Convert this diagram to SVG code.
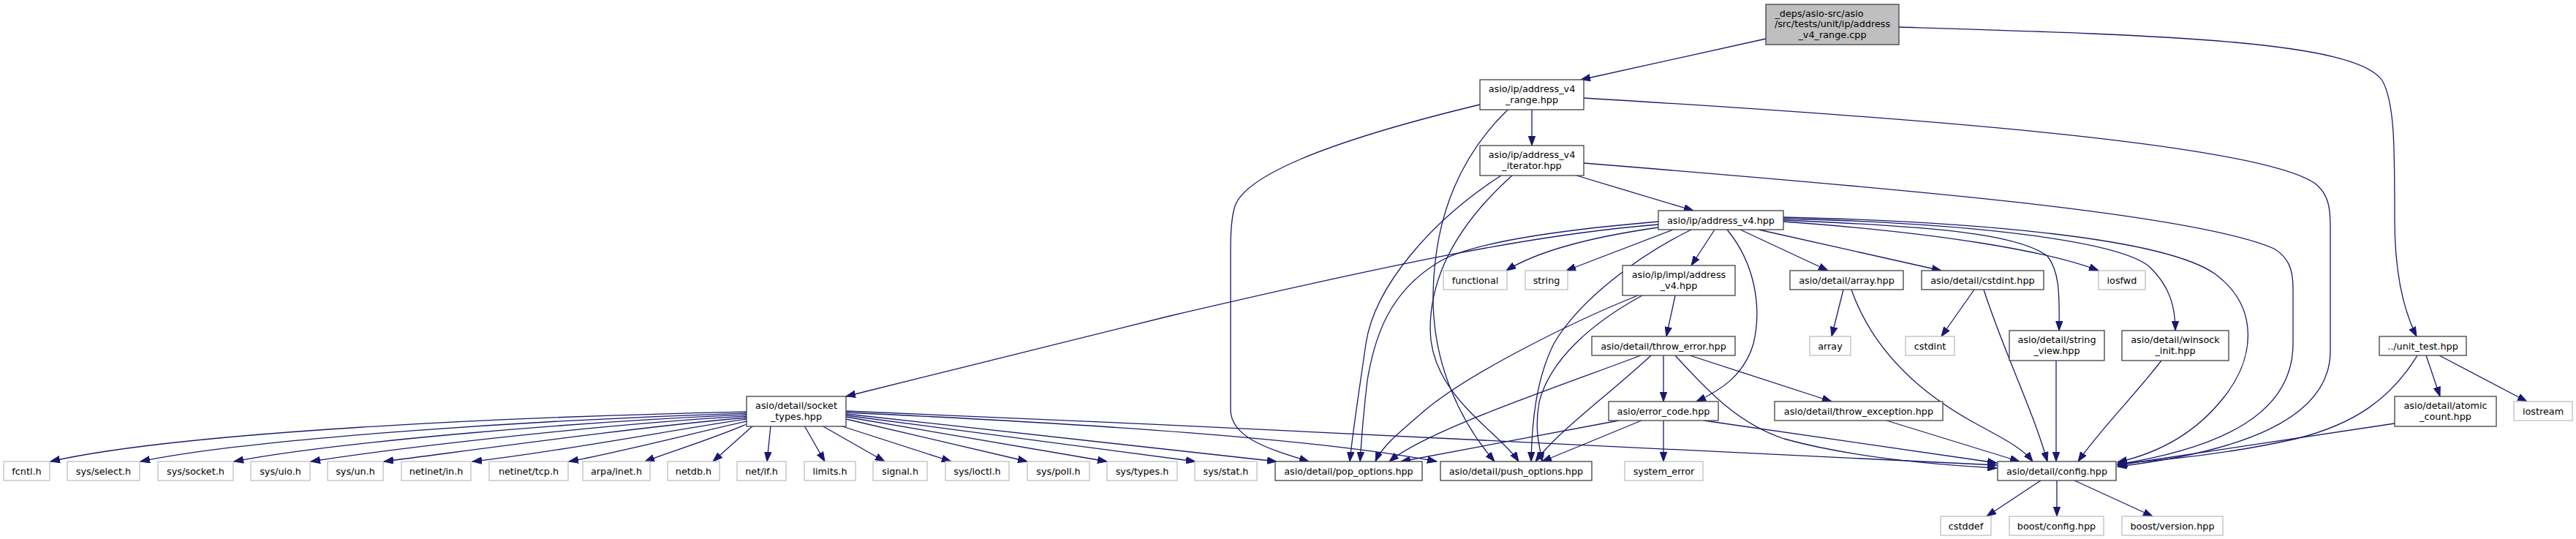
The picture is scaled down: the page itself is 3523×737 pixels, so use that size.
<svg xmlns="http://www.w3.org/2000/svg" width="3523" height="737" viewBox="0 0 3523 737">
<style>
.n rect{fill:#fff;stroke:#404040;stroke-width:1.3}
.x rect{fill:#fff;stroke:#bfbfbf;stroke-width:1.3}
.r rect{fill:#bfbfbf;stroke:#404040;stroke-width:1.3}
text{font-family:"DejaVu Sans","Liberation Sans",sans-serif;font-size:12.8px;fill:#000;text-anchor:middle}
.e path{fill:none;stroke:#191970;stroke-width:1.3;marker-end:url(#a)}
</style>
<defs>
<marker id="a" markerUnits="userSpaceOnUse" markerWidth="14" markerHeight="10" refX="13" refY="5" orient="auto" viewBox="0 0 14 10">
<path d="M0,0.3 L13,5 L0,9.7 Z" fill="#191970" stroke="#191970" stroke-width="1"/>
</marker>
</defs>
<rect width="3523" height="737" fill="#fff"/>
<g id="edges" class="e">
<path d="M2415,53 L2162,109"/>
<path d="M2597,37 C2950,48 3220,55 3258,110 C3275,140 3275,200 3275,300 C3275,380 3290,430 3305,460"/>
<path d="M2095,150 L2095,199"/>
<path d="M2166,134 C2600,160 3080,195 3165,250 C3185,265 3187,285 3187,310 L3187,480 C3187,575 3060,618 2896,638"/>
<path d="M2024,143 C1850,185 1700,235 1688,285 C1684,300 1683,320 1683,340 L1683,560 C1683,600 1740,615 1790,631"/>
<path d="M2062,150 C1995,215 1962,300 1960,400 C1958,500 2000,580 2044,631"/>
<path d="M2166,223 C2600,258 3000,292 3110,340 C3130,352 3136,368 3136,395 L3136,470 C3136,565 3040,612 2896,635"/>
<path d="M2156,240 L2316,288"/>
<path d="M2053,240 C1960,300 1880,390 1868,470 C1858,540 1850,590 1846,631"/>
<path d="M2068,240 C1990,310 1956,380 1956,450 C1956,540 2050,590 2077,631"/>
<path d="M2439,297 C2700,303 2960,325 3030,375 C3090,420 3085,490 3040,545 C3000,595 2950,620 2896,632"/>
<path d="M2268,311 C2170,325 2100,345 2060,370"/>
<path d="M2288,314 L2142,370"/>
<path d="M2345,314 L2313,363"/>
<path d="M2362,314 C2400,360 2410,420 2398,470 C2385,515 2350,535 2320,549"/>
<path d="M2380,314 L2500,370"/>
<path d="M2405,314 L2655,370"/>
<path d="M2439,303 C2650,318 2800,343 2870,370"/>
<path d="M2439,301 C2650,310 2760,320 2800,350 C2816,370 2817,400 2816,452"/>
<path d="M2439,299 C2700,305 2900,330 2940,365 C2968,392 2975,420 2975,452"/>
<path d="M2268,307 C2100,320 1900,362 1600,432 L1157,542"/>
<path d="M2268,303 C2150,313 2010,330 1965,360 C1900,400 1880,460 1870,520 C1864,570 1862,600 1860,631"/>
<path d="M2313,314 C2240,350 2160,410 2125,470 C2100,520 2095,580 2094,631"/>
<path d="M2291,404 L2279,460"/>
<path d="M2240,404 C2150,440 2010,510 1950,560 C1915,590 1890,610 1881,631"/>
<path d="M2246,404 C2180,440 2120,490 2105,550 C2098,590 2106,610 2109,631"/>
<path d="M2275,486 L2275,549"/>
<path d="M2311,486 L2505,549"/>
<path d="M2291,486 C2340,540 2380,580 2440,600 C2530,625 2640,635 2731,640"/>
<path d="M2244,486 C2100,540 1950,590 1900,631"/>
<path d="M2258,486 C2200,540 2130,590 2100,631"/>
<path d="M2214,575 L1916,631"/>
<path d="M2245,575 L2109,631"/>
<path d="M2275,575 L2275,631"/>
<path d="M2330,575 L2731,633"/>
<path d="M2580,575 L2762,631"/>
<path d="M2521,396 L2505,460"/>
<path d="M2532,396 C2565,490 2640,545 2700,578 C2740,600 2765,612 2780,631"/>
<path d="M2700,396 L2655,460"/>
<path d="M2713,396 C2740,480 2780,560 2800,631"/>
<path d="M2812,493 L2812,631"/>
<path d="M2956,493 C2920,540 2870,590 2842,631"/>
<path d="M3318,486 L3337,542"/>
<path d="M3336,486 L3456,549"/>
<path d="M3306,486 C3270,545 3220,580 3140,600 C3060,618 2980,628 2896,634"/>
<path d="M3275,579 L2896,636"/>
<path d="M2791,657 L2717,706"/>
<path d="M2813,657 L2813,706"/>
<path d="M2837,657 L2944,706"/>
<path d="M1021,563 C700,570 250,590 69,631"/>
<path d="M1021,565 C760,573 350,598 192,631"/>
<path d="M1021,567 C800,576 460,604 320,631"/>
<path d="M1021,569 C840,579 560,610 425,631"/>
<path d="M1021,571 C880,583 650,615 525,631"/>
<path d="M1021,573 C920,588 750,620 646,631"/>
<path d="M1021,576 C950,592 840,620 778,631"/>
<path d="M1021,580 C975,600 910,620 882,631"/>
<path d="M1030,582 L975,631"/>
<path d="M1054,582 L1049,631"/>
<path d="M1100,582 L1128,631"/>
<path d="M1124,582 L1210,631"/>
<path d="M1149,582 L1301,631"/>
<path d="M1157,573 L1405,631"/>
<path d="M1157,570 L1514,631"/>
<path d="M1157,568 L1635,631"/>
<path d="M1157,566 L1746,631"/>
<path d="M1157,564 C1500,580 1800,600 1965,631"/>
<path d="M1157,562 C1700,585 2300,612 2731,636"/>
</g>
<g id="root" class="r"><rect x="2415" y="6" width="182" height="55"/><text x="2488" y="22.5">_deps/asio-src/asio</text><text x="2506" y="37.2">/src/tests/unit/ip/address</text><text x="2506" y="51.9">_v4_range.cpp</text></g>
<g id="range" class="n"><rect x="2024" y="109" width="142" height="41"/><text x="2095" y="126">asio/ip/address_v4</text><text x="2095" y="140.7">_range.hpp</text></g>
<g id="iterator" class="n"><rect x="2024" y="199" width="142" height="41"/><text x="2095" y="216">asio/ip/address_v4</text><text x="2095" y="230.7">_iterator.hpp</text></g>
<g id="addr" class="n"><rect x="2268" y="288" width="171" height="26"/><text x="2353.5" y="305.5">asio/ip/address_v4.hpp</text></g>
<g id="functional" class="x"><rect x="1974" y="370" width="87" height="26"/><text x="2017.5" y="387.5">functional</text></g>
<g id="string" class="x"><rect x="2086" y="370" width="58" height="26"/><text x="2115" y="387.5">string</text></g>
<g id="impl" class="n"><rect x="2219" y="363" width="154" height="41"/><text x="2296" y="380">asio/ip/impl/address</text><text x="2296" y="394.7">_v4.hpp</text></g>
<g id="arrayhpp" class="n"><rect x="2448" y="370" width="155" height="26"/><text x="2525.5" y="387.5">asio/detail/array.hpp</text></g>
<g id="cstdinthpp" class="n"><rect x="2628" y="370" width="167" height="26"/><text x="2711.5" y="387.5">asio/detail/cstdint.hpp</text></g>
<g id="iosfwd" class="x"><rect x="2870" y="370" width="64" height="26"/><text x="2902" y="387.5">iosfwd</text></g>
<g id="throwerror" class="n"><rect x="2177" y="460" width="196" height="26"/><text x="2275" y="477.5">asio/detail/throw_error.hpp</text></g>
<g id="array" class="x"><rect x="2475" y="460" width="56" height="26"/><text x="2503" y="477.5">array</text></g>
<g id="cstdint" class="x"><rect x="2606" y="460" width="67" height="26"/><text x="2639.5" y="477.5">cstdint</text></g>
<g id="stringview" class="n"><rect x="2748" y="452" width="130" height="41"/><text x="2813" y="469">asio/detail/string</text><text x="2813" y="483.7">_view.hpp</text></g>
<g id="winsock" class="n"><rect x="2902" y="452" width="146" height="41"/><text x="2975" y="469">asio/detail/winsock</text><text x="2975" y="483.7">_init.hpp</text></g>
<g id="unittest" class="n"><rect x="3254" y="460" width="119" height="26"/><text x="3313.5" y="477.5">../unit_test.hpp</text></g>
<g id="sockettypes" class="n"><rect x="1021" y="542" width="136" height="41"/><text x="1089" y="559">asio/detail/socket</text><text x="1089" y="573.7">_types.hpp</text></g>
<g id="errorcode" class="n"><rect x="2200" y="549" width="150" height="26"/><text x="2275" y="566.5">asio/error_code.hpp</text></g>
<g id="throwexception" class="n"><rect x="2427" y="549" width="230" height="26"/><text x="2542" y="566.5">asio/detail/throw_exception.hpp</text></g>
<g id="atomiccount" class="n"><rect x="3275" y="542" width="139" height="41"/><text x="3344.5" y="559">asio/detail/atomic</text><text x="3344.5" y="573.7">_count.hpp</text></g>
<g id="iostream" class="x"><rect x="3438" y="549" width="80" height="26"/><text x="3478" y="566.5">iostream</text></g>
<g id="fcntl" class="x"><rect x="5" y="631" width="63" height="26"/><text x="36.5" y="648.5">fcntl.h</text></g>
<g id="sysselect" class="x"><rect x="92" y="631" width="99" height="26"/><text x="141.5" y="648.5">sys/select.h</text></g>
<g id="syssocket" class="x"><rect x="216" y="631" width="103" height="26"/><text x="267.5" y="648.5">sys/socket.h</text></g>
<g id="sysuio" class="x"><rect x="343" y="631" width="81" height="26"/><text x="383.5" y="648.5">sys/uio.h</text></g>
<g id="sysun" class="x"><rect x="448" y="631" width="76" height="26"/><text x="486" y="648.5">sys/un.h</text></g>
<g id="netinetin" class="x"><rect x="549" y="631" width="95" height="26"/><text x="596.5" y="648.5">netinet/in.h</text></g>
<g id="netinettcp" class="x"><rect x="669" y="631" width="108" height="26"/><text x="723" y="648.5">netinet/tcp.h</text></g>
<g id="arpainet" class="x"><rect x="797" y="631" width="92" height="26"/><text x="843" y="648.5">arpa/inet.h</text></g>
<g id="netdb" class="x"><rect x="913" y="631" width="71" height="26"/><text x="948.5" y="648.5">netdb.h</text></g>
<g id="netif" class="x"><rect x="1008" y="631" width="67" height="26"/><text x="1041.5" y="648.5">net/if.h</text></g>
<g id="limits" class="x"><rect x="1100" y="631" width="70" height="26"/><text x="1135" y="648.5">limits.h</text></g>
<g id="signal" class="x"><rect x="1194" y="631" width="74" height="26"/><text x="1231" y="648.5">signal.h</text></g>
<g id="sysioctl" class="x"><rect x="1293" y="631" width="87" height="26"/><text x="1336.5" y="648.5">sys/ioctl.h</text></g>
<g id="syspoll" class="x"><rect x="1405" y="631" width="85" height="26"/><text x="1447.5" y="648.5">sys/poll.h</text></g>
<g id="systypes" class="x"><rect x="1514" y="631" width="96" height="26"/><text x="1562" y="648.5">sys/types.h</text></g>
<g id="sysstat" class="x"><rect x="1634" y="631" width="85" height="26"/><text x="1676.5" y="648.5">sys/stat.h</text></g>
<g id="popoptions" class="n"><rect x="1744" y="631" width="201" height="26"/><text x="1844.5" y="648.5">asio/detail/pop_options.hpp</text></g>
<g id="pushoptions" class="n"><rect x="1970" y="631" width="207" height="26"/><text x="2073.5" y="648.5">asio/detail/push_options.hpp</text></g>
<g id="systemerror" class="x"><rect x="2222" y="631" width="107" height="26"/><text x="2275.5" y="648.5">system_error</text></g>
<g id="config" class="n"><rect x="2732" y="631" width="162" height="26"/><text x="2813" y="648.5">asio/detail/config.hpp</text></g>
<g id="cstddef" class="x"><rect x="2654" y="706" width="69" height="26"/><text x="2688.5" y="723.5">cstddef</text></g>
<g id="boostconfig" class="x"><rect x="2748" y="706" width="129" height="26"/><text x="2812.5" y="723.5">boost/config.hpp</text></g>
<g id="boostversion" class="x"><rect x="2902" y="706" width="138" height="26"/><text x="2971" y="723.5">boost/version.hpp</text></g>
</svg>
